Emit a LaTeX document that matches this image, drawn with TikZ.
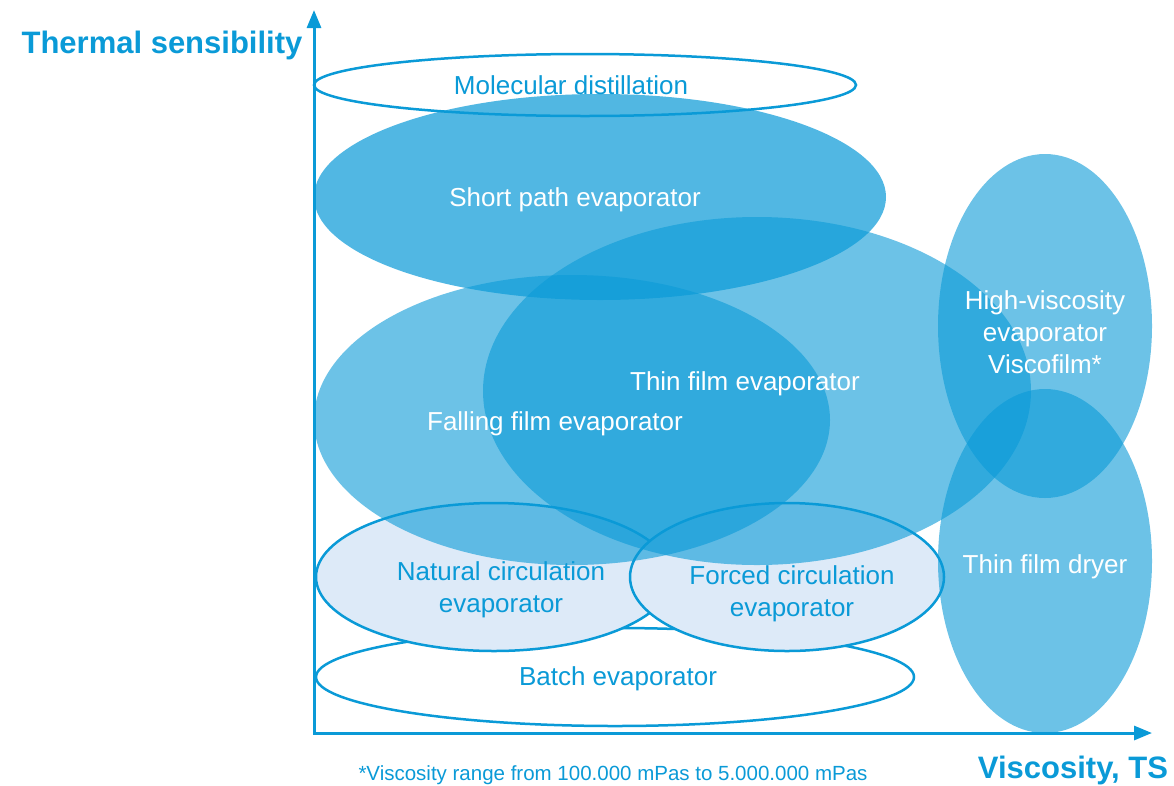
\documentclass[tikz,border=0pt]{standalone}
\usepackage{fontspec}
\setmainfont{Liberation Sans}
\usetikzlibrary{arrows.meta,shapes.geometric,positioning}
\definecolor{vblue}{HTML}{0A9AD7}
\definecolor{vlight}{HTML}{DDEAF8}
\tikzstyle{zone} = [ellipse, inner sep=0pt]
\tikzstyle{ring} = [zone, draw=vblue, line width=2.5pt]
\tikzstyle{blob} = [zone, fill=vblue, fill opacity=0.6]
\tikzstyle{lbl} = [text=vblue, font=\fontsize{26}{31.5}\selectfont, align=center]
\tikzstyle{wlbl} = [lbl, text=white]
\tikzstyle{axis} = [vblue, line width=3pt, {Triangle[length=18pt,width=14pt]}-{Triangle[length=18pt,width=14pt]}]

\begin{document}
\begin{tikzpicture}[x=1pt, y=-1pt]
  \useasboundingbox (0,0) rectangle (1174,785);
  % Outlined ranges
  \node [ring, fill=white, minimum width=598pt, minimum height=98pt] (batch) at (615,677) {};
  \node [ring, fill=vlight, minimum width=356pt, minimum height=148pt] (natural) at (494,577) {};
  \node [ring, fill=vlight, minimum width=314pt, minimum height=148pt] (forced) at (787,577) {};
  \node [ring, fill=white, minimum width=542pt, minimum height=62pt] (molecular) at (585,85) {};
  % Filled ranges
  \node [blob, minimum width=516pt, minimum height=290pt] (falling) at (572,420) {};
  \node [blob, minimum width=548pt, minimum height=348pt] (thin) at (757,391) {};
  \node [blob, fill opacity=0.71, minimum width=572pt, minimum height=206pt] (short) at (600,197) {};
  \node [blob, minimum width=214pt, minimum height=344pt] (viscous) at (1045,326) {};
  \node [blob, minimum width=214pt, minimum height=344pt] (dryer) at (1045,561) {};
  % Axes
  \coordinate (o) at (314,733);
  \coordinate (ytip) at (314,10);
  \coordinate (xtip) at (1152,733);
  \draw[axis] (ytip) -- (o) -- (xtip);
  % Labels
  \node [lbl] (tmolecular) at (571,85) {Molecular distillation};
  \node [wlbl] (tshort) at (575,200) {Short path evaporator};
  \node [wlbl] (tthin) at (745,384) {Thin film evaporator};
  \node [wlbl] (tfalling) at (555,424) {Falling film evaporator};
  \node [wlbl, font=\fontsize{26}{32}\selectfont] (tviscous) at (1045,332) {High-viscosity\\evaporator\\Viscofilm*};
  \node [wlbl] (tdryer) at (1045,567) {Thin film dryer};
  \node [lbl] (tnatural) at (501,590) {Natural circulation\\evaporator};
  \node [lbl] (tforced) at (792,594) {Forced circulation\\evaporator};
  \node [lbl] (tbatch) at (618,679) {Batch evaporator};
  \node [lbl, font=\fontsize{31}{36}\selectfont\bfseries] (ytitle) at (162,45) {Thermal sensibility};
  \node [lbl, font=\fontsize{31}{36}\selectfont\bfseries] (xtitle) at (1073,770) {Viscosity, TS};
  \node [lbl, font=\fontsize{20.5}{24}\selectfont] (note) at (613,775) {*Viscosity range from 100.000 mPas to 5.000.000 mPas};
\end{tikzpicture}
\end{document}
